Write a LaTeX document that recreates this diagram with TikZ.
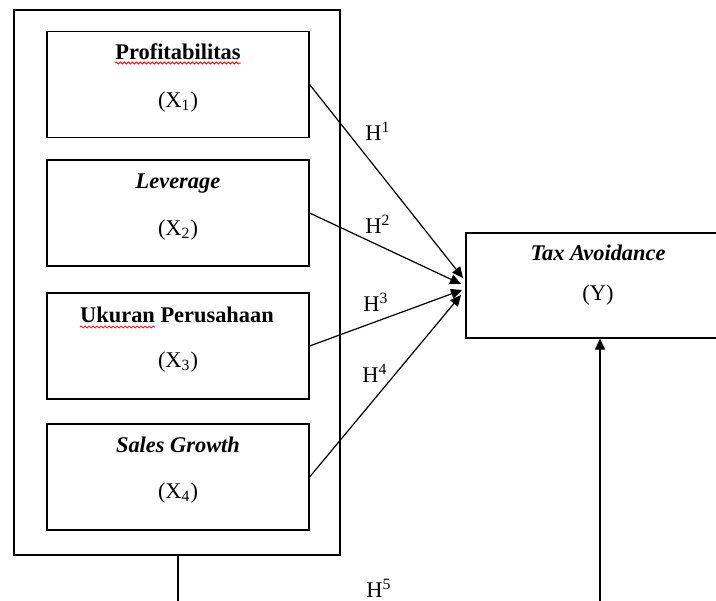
\documentclass[tikz,border=0pt]{standalone}
\usepackage{fontspec}
\setmainfont{Liberation Serif}
\usetikzlibrary{arrows.meta,decorations.pathmorphing}
\begin{document}
\begin{tikzpicture}[x=0.5pt,y=-0.5pt,
  box/.style={draw,line width=0.6pt,minimum width=131pt,minimum height=53pt,inner sep=0pt},
  lbl/.style={anchor=base,inner sep=0pt,font=\fontsize{11.2}{13}\selectfont},
  hlbl/.style={anchor=base west,inner sep=0pt,font=\fontsize{11.2}{13}\selectfont},
  conn/.style={line width=0.6pt},
  arr/.style={conn,-{Triangle[length=5.5pt,width=5pt]}},
  spell/.style={draw=red,line width=0.4pt,decorate,decoration={snake,amplitude=0.5pt,segment length=2pt}}]
\useasboundingbox (0,0) rectangle (716,600);
% outer frame
\node[draw,line width=0.6pt,minimum width=163pt,minimum height=272.5pt,inner sep=0pt] (outer) at (177,282.5) {};
% independent variable boxes
\node[box] (b1) at (178,84.5) {};
\node[box] (b2) at (178,213) {};
\node[box] (b3) at (178,346) {};
\node[box] (b4) at (178,477) {};
% dependent box (right side runs off the page)
\node[draw,line width=0.6pt,minimum width=132pt,minimum height=52.5pt,inner sep=0pt] (tax) at (598,285.5) {};
% texts
\node[lbl] (t1) at (178,59) {\textbf{Profitabilitas}};
\node[lbl] (x1) at (178,107) {(X\textsubscript{1})};
\node[lbl] (t2) at (178,188) {\textbf{\textit{Leverage}}};
\node[lbl] (x2) at (178,235) {(X\textsubscript{2})};
\node[lbl] (t3) at (177,322) {\textbf{Ukuran Perusahaan}};
\node[lbl] (x3) at (178,367) {(X\textsubscript{3})};
\node[lbl] (t4) at (178,452) {\textbf{\textit{Sales Growth}}};
\node[lbl] (x4) at (178,498) {(X\textsubscript{4})};
\node[lbl] (ty) at (598,260) {\textbf{\textit{Tax Avoidance}}};
\node[lbl] (yy) at (598,300) {(Y)};
% spell-check underlines
\draw[spell] (t1.base west) ++(0,4) -- ++(126,0);
\draw[spell] (t3.base west) ++(0,5) -- ++(75,0);
% arrow targets
\coordinate (e1) at (463,278);
\coordinate (e2) at (461,284);
\coordinate (e3) at (462,290);
\coordinate (e4) at (461,295);
\draw[arr] (b1.east) -- (e1);
\draw[arr] (b2.east) -- (e2);
\draw[arr] (b3.east) -- (e3);
\draw[arr] (b4.east) -- (e4);
% hypothesis labels
\node[hlbl] (h1) at (365,140) {H\textsuperscript{1}};
\node[hlbl] (h2) at (365,233) {H\textsuperscript{2}};
\node[hlbl] (h3) at (363,311) {H\textsuperscript{3}};
\node[hlbl] (h4) at (362,382) {H\textsuperscript{4}};
\node[hlbl] (h5) at (366,597) {H\textsuperscript{5}};
% moderation path
\coordinate (c1) at (178,610);
\coordinate (c2) at (600,610);
\draw[conn] (outer.south -| c1) -- (c1);
\draw[arr] (c2) -- (c2 |- tax.south);
\end{tikzpicture}
\end{document}
